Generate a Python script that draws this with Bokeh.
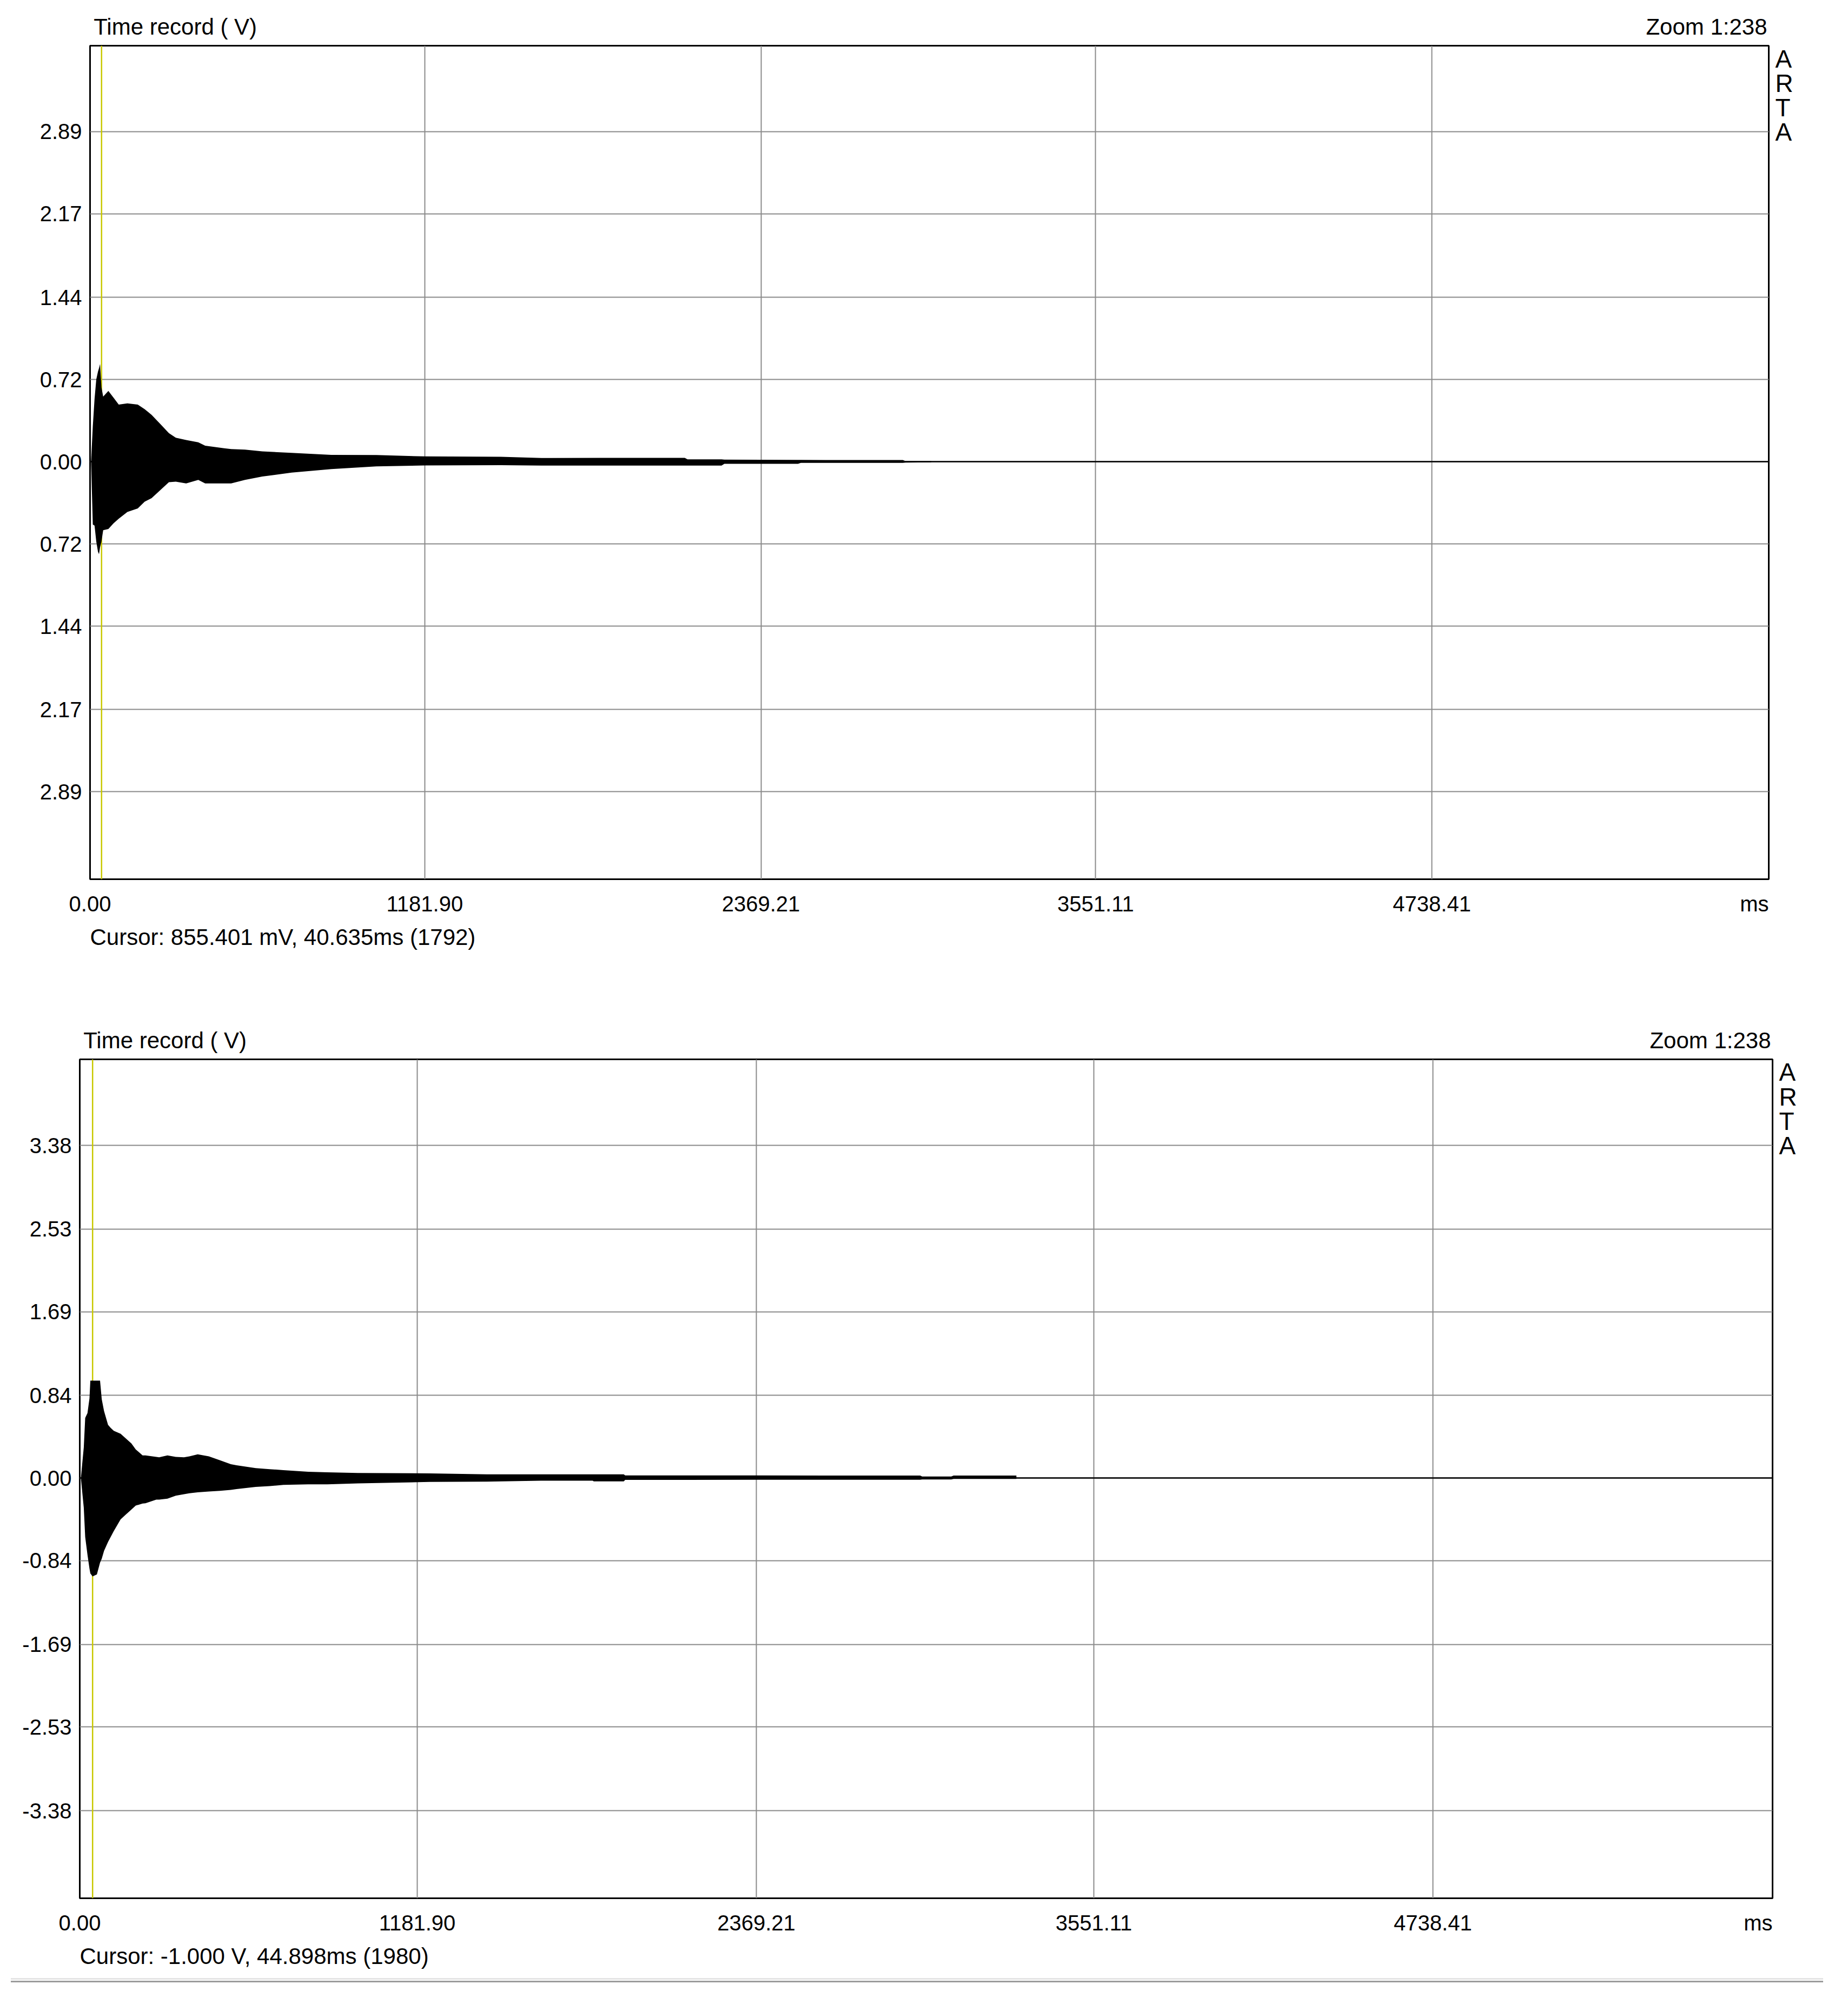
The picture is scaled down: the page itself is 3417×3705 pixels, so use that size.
from bokeh.plotting import figure
from bokeh.models import Range1d, FixedTicker, Span, Div, Spacer, LinearAxis, Title
from bokeh.layouts import column, row
from bokeh.embed import file_html
from bokeh.resources import INLINE

# ---------------- data ----------------
x_tick_values = [0.00, 1181.90, 2369.21, 3551.11, 4738.41]
x_tick_labels = ["0.00", "1181.90", "2369.21", "3551.11", "4738.41"]
x_limits = (0.0, 5928.0)
x_unit = "ms"

top_y_ticks = [2.89, 2.17, 1.44, 0.72, 0.00, -0.72, -1.44, -2.17, -2.89]
top_y_labels = ["2.89", "2.17", "1.44", "0.72", "0.00", "0.72", "1.44", "2.17", "2.89"]
top_y_limits = (-3.657, 3.643)
top_t = [3.7, 9.8, 15.9, 22.0, 28.1, 31.7, 35.4, 40.3, 46.4, 64.7, 83.0, 101.3, 131.9,
         168.5, 192.9, 217.3, 247.9, 278.4, 302.8, 339.4, 382.2, 406.6, 473.7, 498.2,
         547.0, 608.1, 711.8, 852.3, 1011.0, 1181.9, 1450.5, 1594.6, 1800, 2100, 2110,
         2230, 2240, 2500, 2510, 2870, 2880, 2970]
top_upper = [0.005, 0.31, 0.55, 0.72, 0.79, 0.82, 0.855, 0.65, 0.57, 0.62, 0.56, 0.50, 0.51,
             0.50, 0.46, 0.41, 0.33, 0.25, 0.21, 0.19, 0.17, 0.14, 0.117, 0.11,
             0.106, 0.09, 0.077, 0.059, 0.058, 0.046, 0.043, 0.032, 0.033, 0.033, 0.020,
             0.020, 0.018, 0.016, 0.015, 0.014, 0.005, 0.005]
top_lower = [-0.005, -0.55, -0.56, -0.70, -0.79, -0.81, -0.75, -0.70, -0.60, -0.59, -0.54, -0.50, -0.44,
             -0.41, -0.35, -0.32, -0.25, -0.18, -0.175, -0.19, -0.16, -0.19, -0.19, -0.19,
             -0.16, -0.13, -0.096, -0.065, -0.041, -0.033, -0.031, -0.034, -0.034, -0.034, -0.034,
             -0.034, -0.019, -0.019, -0.010, -0.010, -0.008, -0.006]
top_cursor_ms = 40.635
top_cursor_text = "Cursor: 855.401 mV, 40.635ms (1792)"

bottom_y_ticks = [3.38, 2.53, 1.69, 0.84, 0.00, -0.84, -1.69, -2.53, -3.38]
bottom_y_labels = ["3.38", "2.53", "1.69", "0.84", "0.00", "-0.84", "-1.69", "-2.53", "-3.38"]
bottom_y_limits = (-4.27, 4.254)
bottom_t = [4, 14, 19, 27, 34, 37, 45, 60, 71, 77, 85, 99, 108, 119, 143, 162, 181, 196, 220,
            230, 268, 278, 307, 336, 365, 384, 413, 452, 491, 529, 549, 616, 665, 713, 800,
            867, 974, 1225, 1426, 1615, 1796, 1800, 1905, 1910, 2363, 2943, 2950, 3052, 3060, 3280]
bottom_upper = [0.005, 0.31, 0.61, 0.66, 0.81, 0.99, 0.99, 0.99, 0.99, 0.80, 0.68, 0.54, 0.51,
                0.48, 0.45, 0.40, 0.35, 0.29, 0.23, 0.23, 0.215, 0.21, 0.23, 0.215, 0.21, 0.22,
                0.24, 0.22, 0.18, 0.14, 0.13, 0.10, 0.09, 0.08, 0.064, 0.058, 0.051, 0.047,
                0.037, 0.037, 0.037, 0.037, 0.037, 0.027, 0.026, 0.025, 0.016, 0.016, 0.025, 0.025]
bottom_lower = [-0.005, -0.30, -0.60, -0.78, -0.92, -0.97, -1.00, -0.98, -0.86, -0.82, -0.74, -0.65,
                -0.60, -0.54, -0.42, -0.37, -0.32, -0.28, -0.26, -0.256, -0.22, -0.22, -0.21, -0.18,
                -0.165, -0.155, -0.145, -0.137, -0.13, -0.12, -0.113, -0.091, -0.082, -0.07, -0.064,
                -0.064, -0.055, -0.04, -0.037, -0.027, -0.027, -0.034, -0.034, -0.019, -0.018,
                -0.018, -0.015, -0.015, -0.009, -0.009]
bottom_cursor_ms = 44.898
bottom_cursor_text = "Cursor: -1.000 V, 44.898ms (1980)"

chart_title = "Time record ( V)"
zoom_text = "Zoom 1:238"
brand_letters = ["A", "R", "T", "A"]

# ---------------- style ----------------
FONT = "Liberation Sans"
GRID = "#8a8a8a"
CURSOR = "#c8c800"
# Arial / Liberation Sans advance widths (em) used to place centred axis labels
CHAR_W = {'T': .611, 'i': .222, 'm': .833, 'e': .556, ' ': .278, 'r': .333, 'c': .5,
          'o': .556, 'd': .556, '(': .333, ')': .333, 'V': .667, 'Z': .611, ':': .278,
          's': .5, '.': .278}


def text_w(s, size):
    return sum(CHAR_W.get(ch, .556) for ch in s) * size


def make_chart(fig_left, fig_top, fig_w, fig_h, frame, ylim, yt, yl, t, up, lo,
               cursor_ms, cursor_text):
    fl, ft, fr, fb = frame  # frame box in page pixels
    x0, x1 = x_limits
    y0, y1 = ylim

    def dx(px):
        return x0 + (px - fl) / (fr - fl) * (x1 - x0)

    def dy(py):
        return y1 - (py - ft) / (fb - ft) * (y1 - y0)

    p = figure(width=fig_w, height=fig_h, output_backend="svg", toolbar_location=None,
               title_location=None,
               x_range=Range1d(x0, x1), y_range=Range1d(y0, y1))
    p.min_border = 0
    p.min_border_left = fl - fig_left
    p.min_border_right = fig_left + fig_w - fr
    p.min_border_top = ft - fig_top
    p.min_border_bottom = fig_top + fig_h - fb
    p.background_fill_color = "white"
    p.border_fill_color = "white"
    p.outline_line_color = "black"
    p.outline_line_width = 3

    def style_axis(ax, size, standoff):
        ax.axis_line_color = None
        ax.major_tick_line_color = None
        ax.minor_tick_line_color = None
        ax.major_tick_out = 0
        ax.major_tick_in = 0
        ax.minor_tick_out = 0
        ax.major_label_text_font = FONT
        ax.major_label_text_font_size = size
        ax.major_label_text_color = "black"
        ax.major_label_standoff = standoff

    # main x axis: tick labels + unit label at right end
    unit_x = dx(fr - text_w(x_unit, 40) / 2)
    xa = p.xaxis[0]
    xa.ticker = FixedTicker(ticks=x_tick_values + [unit_x])
    xa.major_label_overrides = {**dict(zip(x_tick_values, x_tick_labels)), unit_x: x_unit}
    style_axis(xa, "40px", 23)

    ya = p.yaxis[0]
    ya.ticker = FixedTicker(ticks=yt)
    ya.major_label_overrides = dict(zip(yt, yl))
    style_axis(ya, "40px", 15)

    # header line: chart title (left) and zoom text (right)
    title_x = dx(fl + 6 + text_w(chart_title, 42) / 2)
    zoom_x = dx(fr - 3 - text_w(zoom_text, 42) / 2)
    top_ax = LinearAxis(ticker=FixedTicker(ticks=[title_x, zoom_x]),
                        major_label_overrides={title_x: chart_title, zoom_x: zoom_text})
    style_axis(top_ax, "42px", 12)
    p.add_layout(top_ax, "above")

    # vertical brand letters at the right
    brand_y = [dy(ft + 24 + 45.3 * i) for i in range(len(brand_letters))]
    right_ax = LinearAxis(ticker=FixedTicker(ticks=brand_y),
                          major_label_overrides=dict(zip(brand_y, brand_letters)))
    style_axis(right_ax, "46px", 12)
    p.add_layout(right_ax, "right")

    # cursor read-out below the x axis
    p.add_layout(Title(text=cursor_text, align="left", offset=0, text_font=FONT,
                       text_font_size="42px", text_font_style="normal",
                       text_color="black", standoff=22), "below")

    p.xgrid.ticker = FixedTicker(ticks=x_tick_values)
    p.ygrid.ticker = FixedTicker(ticks=yt)
    for g in (p.xgrid[0], p.ygrid[0]):
        g.grid_line_color = GRID
        g.grid_line_width = 2

    p.add_layout(Span(location=cursor_ms, dimension="height", line_color=CURSOR,
                      line_width=2.5, level="underlay"))
    p.add_layout(Span(location=0, dimension="width", line_color="black",
                      line_width=2.5, level="underlay"))
    p.varea(x=t, y1=lo, y2=up, fill_color="black")
    return p


top = make_chart(19, 0, 3381, 1800, (166, 84, 3270, 1625), top_y_limits, top_y_ticks,
                 top_y_labels, top_t, top_upper, top_lower, top_cursor_ms, top_cursor_text)
bottom = make_chart(0, 1800, 3400, 1850, (147, 1958, 3277, 3512), bottom_y_limits,
                    bottom_y_ticks, bottom_y_labels, bottom_t, bottom_upper, bottom_lower,
                    bottom_cursor_ms, bottom_cursor_text)

sep = Div(text=('<div style="position:relative;width:3400px;height:20px">'
                '<div style="position:absolute;left:20px;top:7px;width:3351px;height:3px;background:#e4e4e4"></div>'
                '<div style="position:absolute;left:20px;top:12px;width:3351px;height:3px;background:#9c9c9c"></div>'
                '</div>'), width=3400, height=20, margin=0)

layout = column(row(Spacer(width=19, height=1800), top, spacing=0), bottom, sep, spacing=0)
open("out.html", "w").write(file_html(layout, INLINE))
